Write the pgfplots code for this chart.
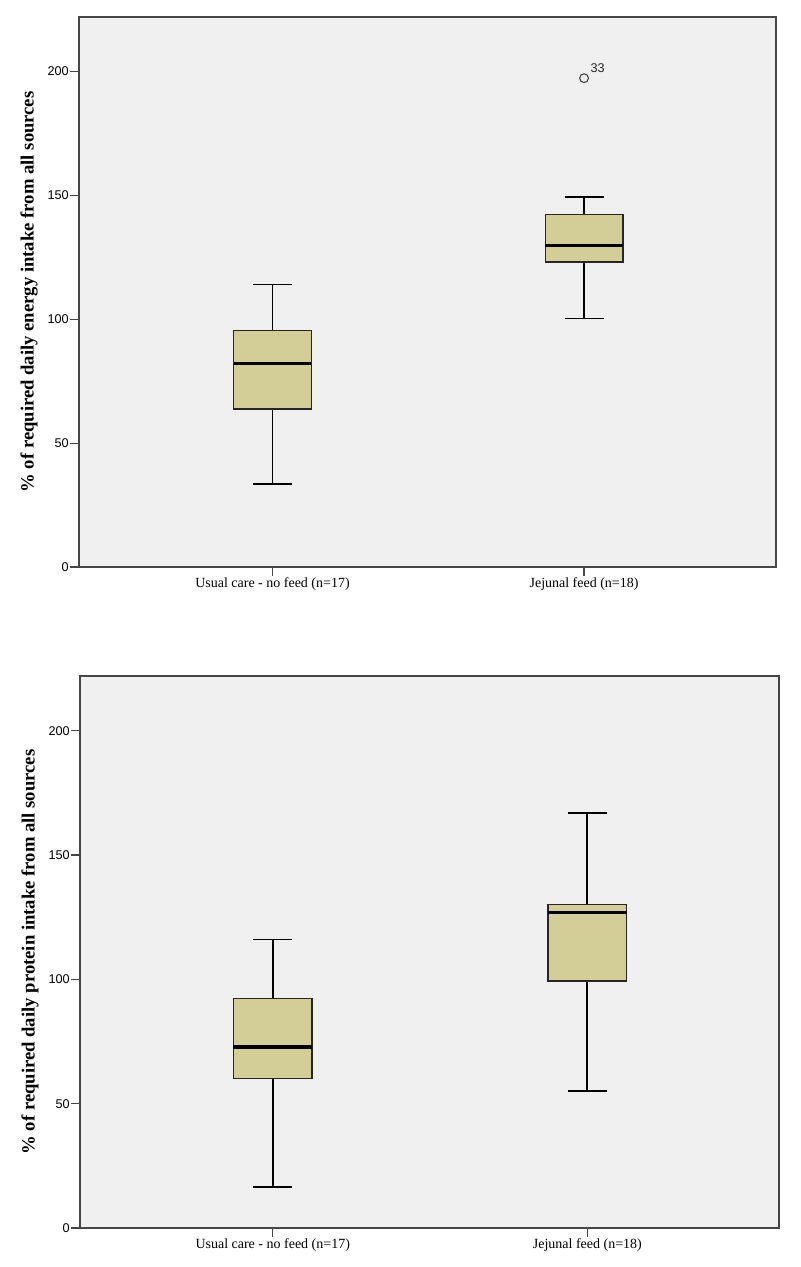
\documentclass[border=0pt]{standalone}
\usepackage{fontspec}
\setmainfont{Liberation Serif}
\newfontfamily\sansf{Liberation Sans}
\usepackage{pgfplots}
\pgfplotsset{compat=1.18}
\definecolor{boxfill}{RGB}{211,206,151}
\definecolor{bggray}{RGB}{240,240,240}
\definecolor{framegray}{RGB}{70,70,70}
\pgfplotsset{
  spssbox/.style={
    scale only axis,
    anchor=south west,
    ymin=0, ymax=222,
    ytick={0,50,100,150,200},
    xtick={1,2},
    xticklabels={Usual care - no feed (n=17), Jejunal feed (n=18)},
    axis background/.style={fill=bggray},
    axis line style={draw=framegray, line width=1.2pt},
    tick align=outside,
    tick pos=left,
    major tick length=6.5pt,
    major tick style={draw=framegray, line width=0.9pt},
    unbounded coords=jump,
    /pgf/number format/assume math mode=true,
    yticklabel style={font=\sansf\fontsize{9.5}{11}\selectfont, inner sep=1pt},
    xticklabel style={font=\fontsize{10.5}{12}\selectfont, inner sep=1.5pt},
    ylabel style={font=\bfseries\fontsize{14}{16}\selectfont, anchor=center},
  },
  whisk/.style={draw=black, line width=1.35pt, mark=none},
  boxst/.style={fill=boxfill, draw=black!85, line width=0.9pt, mark=none},
  med/.style={draw=black, line width=2.3pt, mark=none},
}
\begin{document}
\begin{tikzpicture}
% ---------- top panel: energy ----------
\begin{axis}[spssbox,
  at={(59.25pt,525pt)}, width=522.75pt, height=412.5pt,
  xmin=0.379, xmax=2.616,
  ylabel={\% of required daily energy intake from all sources},
  ylabel style={at={(axis description cs:-0.0717,0.5)}},
]
% whiskers: usual care (lw 33.5, q1 63.8, med 82.1, q3 95.3, uw 114.0)
%           jejunal    (lw 100.3, q1 123.1, med 129.6, q3 142.3, uw 149.3)
\addplot[whisk] coordinates {
  (1,33.5) (1,63.8) (nan,nan) (1,95.3) (1,114.0) (nan,nan)
  (0.9375,33.5) (1.0625,33.5) (nan,nan) (0.9375,114.0) (1.0625,114.0) (nan,nan)
  (2,100.3) (2,123.1) (nan,nan) (2,142.3) (2,149.3) (nan,nan)
  (1.9375,100.3) (2.0625,100.3) (nan,nan) (1.9375,149.3) (2.0625,149.3)};
\addplot[boxst] coordinates {(0.875,63.8) (1.125,63.8) (1.125,95.3) (0.875,95.3)} -- cycle;
\addplot[boxst] coordinates {(1.875,123.1) (2.125,123.1) (2.125,142.3) (1.875,142.3)} -- cycle;
\addplot[med] coordinates {(0.875,82.1) (1.125,82.1) (nan,nan) (1.875,129.6) (2.125,129.6)};
\addplot[only marks, mark=o, mark size=3.3pt, mark options={draw=black!75, line width=0.8pt},
  nodes near coords={33},
  every node near coord/.style={font=\sansf\fontsize{9.5}{11}\selectfont, text=black!85,
    anchor=south west, inner sep=0pt, xshift=4.5pt, yshift=4pt}]
  coordinates {(2,197.3)};
\end{axis}
% ---------- bottom panel: protein ----------
\begin{axis}[spssbox,
  at={(60pt,29.25pt)}, width=524.25pt, height=414pt,
  xmin=0.3875, xmax=2.609,
  ylabel={\% of required daily protein intake from all sources},
  ylabel style={at={(axis description cs:-0.0715,0.5)}},
]
% usual care (lw 16.4, q1 60.1, med 72.8, q3 92.3, uw 116.0)
% jejunal    (lw 55.0, q1 99.3, med 126.8, q3 130.0, uw 167.0)
\addplot[whisk] coordinates {
  (1,16.4) (1,60.1) (nan,nan) (1,92.3) (1,116.0) (nan,nan)
  (0.9375,16.4) (1.0625,16.4) (nan,nan) (0.9375,116.0) (1.0625,116.0) (nan,nan)
  (2,55.0) (2,99.3) (nan,nan) (2,130.0) (2,167.0) (nan,nan)
  (1.9375,55.0) (2.0625,55.0) (nan,nan) (1.9375,167.0) (2.0625,167.0)};
\addplot[boxst] coordinates {(0.875,60.1) (1.125,60.1) (1.125,92.3) (0.875,92.3)} -- cycle;
\addplot[boxst] coordinates {(1.875,99.3) (2.125,99.3) (2.125,130.0) (1.875,130.0)} -- cycle;
\addplot[med] coordinates {(0.875,72.8) (1.125,72.8) (nan,nan) (1.875,126.8) (2.125,126.8)};
\end{axis}
\path (0,0) rectangle (600pt,950.25pt);
\end{tikzpicture}
\end{document}
